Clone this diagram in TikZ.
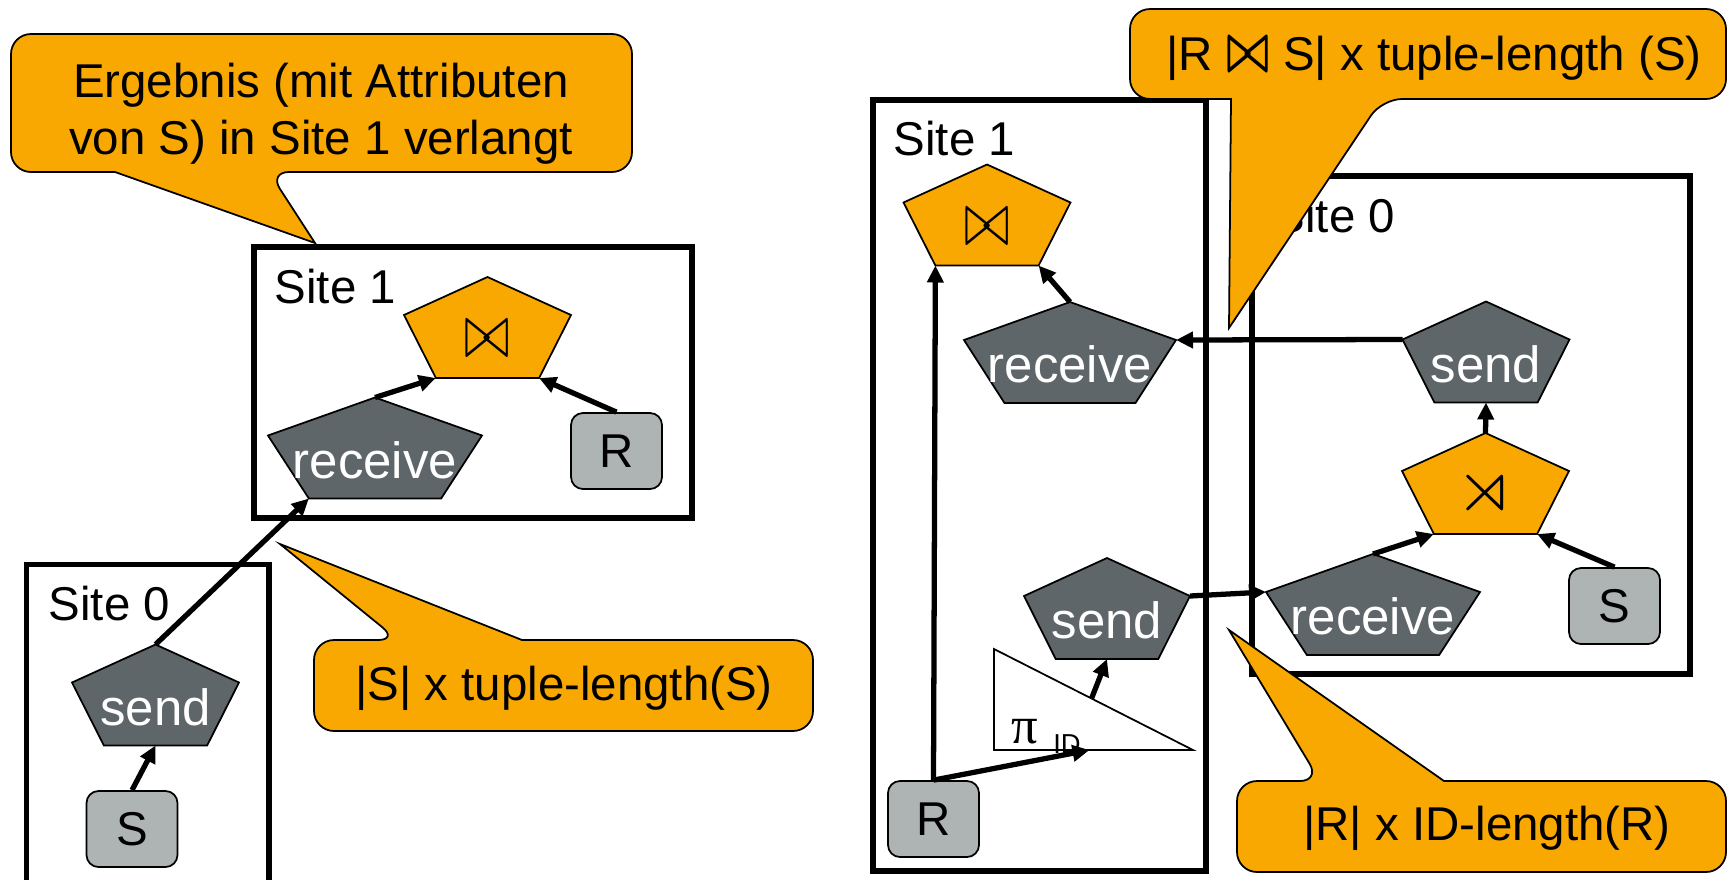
\documentclass[tikz,border=0pt]{standalone}
\usepackage{fontspec}
\setmainfont{Liberation Sans}
\newfontfamily\pifont{Liberation Serif}
\usepackage{amssymb}
\usepackage{graphicx}
\usetikzlibrary{arrows.meta,calc}
\definecolor{callorange}{HTML}{F8A800}
\definecolor{opgray}{HTML}{5F6669}
\definecolor{relgray}{HTML}{AEB3B3}
\tikzset{
  sitebox/.style={line width=1.6pt},
  sitelabel/.style={anchor=base west,inner sep=0pt,font=\fontsize{13.5pt}{16pt}\selectfont},
  pentshape/.style={draw=black,line width=0.5pt},
  pentlabel/.style={anchor=base,inner sep=0pt,font=\fontsize{14.5pt}{17pt}\selectfont},
  relbox/.style={draw=black,line width=0.5pt,fill=relgray,rounded corners=1.2mm,minimum width=9.1mm,minimum height=7.6mm,inner sep=0pt,font=\fontsize{13.5pt}{16pt}\selectfont},
  flow/.style={line width=1.5pt,-{Triangle[length=1.7mm,width=1.6mm]}},
  callout/.style={draw=black,line width=0.5pt,fill=callorange},
  calltext/.style={inner sep=0pt,align=center,font=\fontsize{13.5pt}{16.2pt}\selectfont},
  pics/pent/.style n args={4}{code={
    \filldraw[pentshape,fill=#1] (0,-50.5) -- (#2,-12.5) -- ({0.618*#2},50.5) -- ({-0.618*#2},50.5) -- (-#2,-12.5) -- cycle;
    \coordinate (-t) at (0,-50.5);
    \coordinate (-l) at (-#2,-12.5);
    \coordinate (-r) at (#2,-12.5);
    \coordinate (-bl) at ({-0.618*#2},50.5);
    \coordinate (-br) at ({0.618*#2},50.5);
    \coordinate (-b) at (0,50.5);
    \node[pentlabel,text=#3] (-txt) at (0,30) {#4};
  }}
}
\newcommand\joinsym{\scalebox{1.1}[1.55]{$\bowtie$}}
\newcommand\semisym{\raisebox{0.2mm}{\scalebox{1.5}[1.45]{$\rtimes$}}}
\begin{document}
\begin{tikzpicture}[x=0.1mm,y=-0.1mm]
\useasboundingbox (0,0) rectangle (1727,879);
\clip (0,0) rectangle (1727,879);
% sites
\draw[sitebox] (254,247) rectangle (692,518);
\node[sitelabel] (siteL1) at (274,303) {Site 1};
\draw[sitebox] (26.5,564.5) rectangle (269,920);
\node[sitelabel] (siteL0) at (48,620) {Site 0};
\draw[sitebox] (873,100) rectangle (1206,871);
\node[sitelabel] (siteR1) at (893,155) {Site 1};
\draw[sitebox] (1252,176) rectangle (1690,674);
\node[sitelabel] (siteR0) at (1273,232) {Site 0};
% left plan
\pic (joinL) at (487.5,327.5) {pent={callorange}{83.5}{black}{\joinsym}};
\pic (recvL) at (375,448) {pent={opgray}{107}{white}{receive}};
\node[relbox] (relR1) at (616.5,451) {R};
\pic (sendL) at (155.5,695) {pent={opgray}{83.5}{white}{send}};
\node[relbox] (relS1) at (132,829) {S};
\draw[flow] (relS1.north) -- (sendL-b);
\draw[flow] (sendL-t) -- (recvL-bl);
\draw[flow] (recvL-t) -- (joinL-bl);
\draw[flow] (relR1.north) -- (joinL-br);
% right plan
\pic (joinR) at (987,215) {pent={callorange}{83.5}{black}{\joinsym}};
\pic (recvA) at (1070,352.5) {pent={opgray}{106}{white}{receive}};
\pic (sendA) at (1107,608.5) {pent={opgray}{83}{white}{send}};
\filldraw[draw=black,line width=0.5pt,fill=white] (994,649) coordinate (pi-top) -- (994,750) coordinate (pi-bl) -- (1193,750) coordinate (pi-br) -- cycle;
\coordinate (pi-in) at ($(pi-bl)!0.48!(pi-br)$);
\coordinate (pi-out) at ($(pi-top)!0.49!(pi-br)$);
\node[anchor=base west,inner sep=0pt] (pilbl) at (1011,743) {{\pifont\fontsize{15pt}{17pt}\selectfont π}\hspace{1.5mm}\raisebox{-1mm}{\fontsize{7.8pt}{9pt}\selectfont ID}};
\node[relbox] (relR2) at (933.5,819) {R};
\pic (sendB) at (1486,352) {pent={opgray}{83.5}{white}{send}};
\pic (semi) at (1485.5,483.5) {pent={callorange}{83.5}{black}{\semisym}};
\pic (recvB) at (1373,604.5) {pent={opgray}{107}{white}{receive}};
\node[relbox] (relS2) at (1614.5,606) {S};
\draw[flow] (relR2.north) -- (joinR-bl);
\draw[flow] (relR2.north) -- (pi-in);
\draw[flow] (pi-out) -- (sendA-b);
\draw[flow] (sendA-r) -- (recvB-l);
\draw[flow] (recvB-t) -- (semi-bl);
\draw[flow] (relS2.north) -- (semi-br);
\draw[flow] (semi-t) -- (sendB-b);
\draw[flow] (sendB-l) -- (recvA-r);
\draw[flow] (recvA-t) -- (joinR-br);
% callouts
\filldraw[callout] (11,100) [rounded corners=2mm] -- (11,34) -- (632,34) -- (632,172) -- (269,172) [sharp corners] -- (315,243) -- (115,172) -- (60,172) [rounded corners=2mm] -- (11,172) -- cycle;
\node[calltext] (noteResult) at (321,114) {Ergebnis (mit Attributen\\von S) in Site 1 verlangt};
\filldraw[callout] (314,690) [rounded corners=2mm] -- (314,640) -- (398,640) [sharp corners] -- (280,544) -- (522,640) -- (560,640) [rounded corners=2mm] -- (813,640) -- (813,731) -- (314,731) -- cycle;
\node[calltext,anchor=base] (noteShipS) at (564,700) {|S| x tuple-length(S)};
\filldraw[callout] (1130,50) [rounded corners=2mm] -- (1130,9) -- (1726,9) -- (1726,99) -- (1382,99) [sharp corners] -- (1229,328) -- (1231,99) -- (1200,99) [rounded corners=2mm] -- (1130,99) -- cycle;
\node[calltext,anchor=base] (noteShipJoin) at (1434,70) {|R \scalebox{0.9}[1.3]{\boldmath$\bowtie$} S| x tuple-length (S)};
\filldraw[callout] (1237,830) [rounded corners=2mm] -- (1237,781) -- (1320,781) [sharp corners] -- (1229,630) -- (1444,781) -- (1480,781) [rounded corners=2mm] -- (1726,781) -- (1726,872) -- (1237,872) -- cycle;
\node[calltext,anchor=base] (noteShipId) at (1487,840) {|R| x ID-length(R)};
\end{tikzpicture}
\end{document}
